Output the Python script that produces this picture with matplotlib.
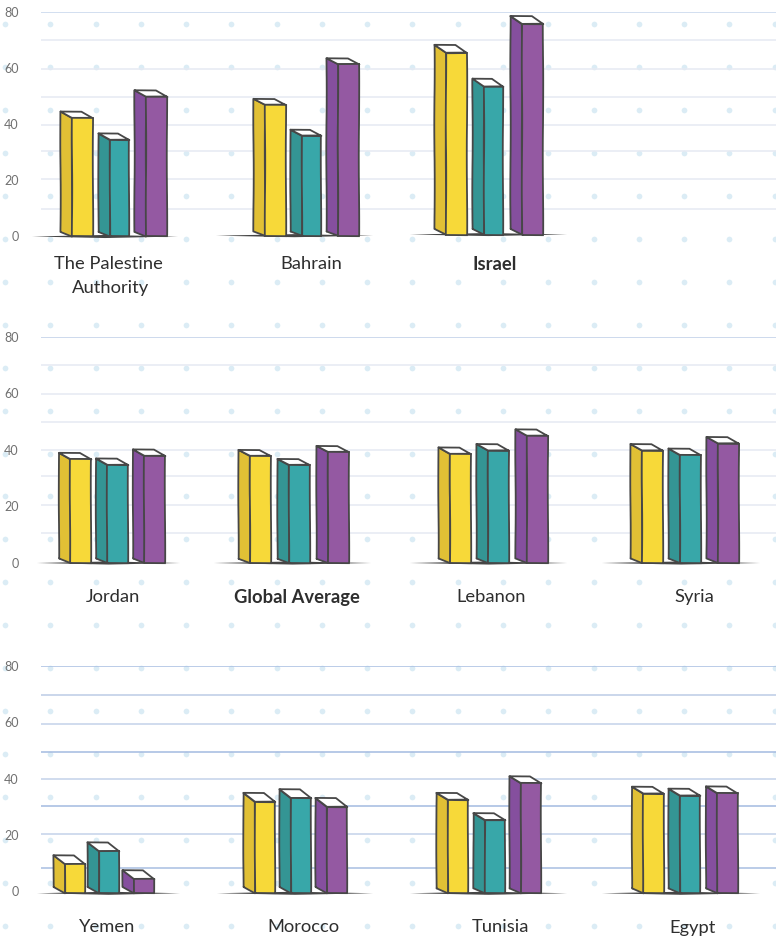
import numpy as np
import matplotlib
matplotlib.use("Agg")
import matplotlib.pyplot as plt
from matplotlib.patches import Polygon

W, H = 776, 940
FONT = ["Lato", "Open Sans", "DejaVu Sans"]

# --- data ---
names_top = ["The Palestine\nAuthority", "Bahrain", "Israel"]
yellow_top = [42.3, 47.0, 65.6]
teal_top = [34.5, 36.0, 53.5]
purple_top = [49.9, 61.5, 75.9]

names_mid = ["Jordan", "Global Average", "Lebanon", "Syria"]
yellow_mid = [36.7, 37.9, 38.6, 39.8]
teal_mid = [34.7, 34.7, 39.8, 38.2]
purple_mid = [37.9, 39.3, 45.0, 42.3]

names_low = ["Yemen", "Morocco", "Tunisia", "Egypt"]
yellow_low = [9.5, 31.7, 32.4, 34.6]
teal_low = [14.1, 33.0, 25.2, 33.9]
purple_low = [4.2, 29.9, 38.3, 34.7]

tick_values = [0, 20, 40, 60, 80]
grid_top = [80, 70.2, 59.8, 49.8, 39.8, 30.5, 20.5, 9.8]
grid_mid = [80, 70, 59.8, 49.9, 40, 30.8, 20.5, 10.6]
grid_low = [80, 69.8, 59.4, 49.5, 39.9, 30.2, 20.3, 8.2]
bold_names = ["Israel", "Global Average"]

# --- layout (pixels) ---
light = "#e6eaf3"
rows = [
    dict(y0=236.5, y80=12.5, names=names_top, vals=(yellow_top, teal_top, purple_top),
         grid=grid_top, colors=["#c6d6ec"] + [light] * 7, rises=[6.5, 6, 8], side=11.5, label_y=264.5,
         fronts=[(72, 110, 146), (265, 302, 338), (446, 484, 522)], widths=[21, 19.5, 21.5],
         base=[(32, 178), (216, 373), (410, 567)], centers=[108.5, 311, 495], lift=[0, 0.3, 0.7]),
    dict(y0=563, y80=337, names=names_mid, vals=(yellow_mid, teal_mid, purple_mid),
         grid=grid_mid, colors=["#c0cfe8"] + [light] * 7, rises=[6.5, 6, 6.5, 6.5], side=11.5, label_y=597,
         fronts=[(70.5, 107.5, 144.5), (250, 289, 328), (450, 488, 527), (642, 680, 718)], widths=[21, 21, 21],
         base=[(37, 180), (214, 371), (410, 567), (602, 760)], centers=[113, 297, 491, 694], lift=[0, 0, 0, 0]),
    dict(y0=891, y80=666, names=names_low, vals=(yellow_low, teal_low, purple_low),
         grid=grid_low,
         colors=["#a8bfe2", "#bccbe6", "#c4d2ea", "#a3bae0", "#c4d2ea", "#a3bae0", "#c4d2ea", "#a8bfe2"],
         rises=[9, 9, 7, 7], side=11.5, label_y=927.5,
         fronts=[(65, 99, 134), (255, 291, 327), (448, 485, 521), (643.5, 680, 717.5)], widths=[20.5, 20.5, 20.5],
         base=[(37, 180), (217, 373), (410, 567), (602, 760)], centers=[107.5, 303, 501, 693], lift=[-0.8, -0.8, -0.8, -0.8]),
]
front_colors = ["#F7D939", "#38A7A9", "#9459A2"]
side_colors = ["#E1C035", "#349594", "#854F9E"]
EDGE = "#474747"
LW = 1.3
SKETCH = (0.22, 160, 3)
LEFT = 41
LINE_PITCH = 24

fig = plt.figure(figsize=(W / 100, H / 100), dpi=100, facecolor="white")

# dotted paper background
bg = fig.add_axes([0, 0, 1, 1], zorder=0)
bg.set_xlim(0, W)
bg.set_ylim(H, 0)
bg.axis("off")
dx, dy = np.meshgrid(np.arange(5, W + 3, 45.27), np.arange(24, H, 42.95))
bg.scatter(dx.ravel(), dy.ravel(), s=17, color="#dbecf5", linewidths=0)

for row in rows:
    ax = fig.add_axes([LEFT / W, 1 - row["y0"] / H, (W - LEFT) / W, (row["y0"] - row["y80"]) / H], zorder=1)
    ax.patch.set_alpha(0)
    ax.set_xlim(LEFT, W)
    ax.set_ylim(0, 80)
    for s in ax.spines.values():
        s.set_visible(False)
    ax.set_xticks([])
    ax.set_yticks(tick_values)
    ax.set_yticklabels([str(t) for t in tick_values], family=FONT, fontsize=9, color="#707070")
    ax.tick_params(axis="y", length=0, pad=16)
    for g, c in zip(row["grid"], row["colors"]):
        ax.axhline(g, color=c, lw=1.1, zorder=1)

    per_unit = (row["y0"] - row["y80"]) / 80
    side = row["side"]
    for g, name in enumerate(row["names"]):
        lift = row["lift"][g]
        rise = row["rises"][g] / per_unit
        x0, x1 = row["base"][g]
        xm = (x0 + x1) / 2
        ax.add_patch(Polygon([(x0, lift), (xm, lift + 0.55), (x1, lift), (xm, lift - 0.55)], closed=True,
                             fc="#454545", ec="none", zorder=2, clip_on=False))
        for b in range(3):
            v = row["vals"][b][g]
            x = row["fronts"][g][b]
            w = row["widths"][b]
            sp = ax.add_patch(Polygon([(x - side, lift + rise * 0.7), (x, lift), (x, v), (x - side, v + rise)],
                                      closed=True, fc=side_colors[b], ec=EDGE, lw=LW, zorder=3, clip_on=False,
                                      joinstyle="round"))
            tp = ax.add_patch(Polygon([(x - side, v + rise), (x + w - side, v + rise), (x + w, v), (x, v)],
                                      closed=True, fc="white", ec=EDGE, lw=LW, zorder=3, clip_on=False,
                                      joinstyle="round"))
            bars = ax.bar(x, v - lift, width=w, bottom=lift, align="edge", color=front_colors[b], edgecolor=EDGE,
                          linewidth=LW, zorder=4, clip_on=False)
            for p in [sp, tp, bars[0]]:
                p.set_sketch_params(*SKETCH)
        for k, line in enumerate(name.split("\n")):
            label_y = (row["y0"] - row["label_y"] - k * LINE_PITCH) / per_unit
            ax.text(row["centers"][g] + k * 2, label_y, line, ha="center", va="center",
                    family=FONT, fontsize=13.2, color="#2e2e2e", clip_on=False,
                    fontweight="bold" if name in bold_names else "normal")

fig.savefig("out.png", dpi=100)
